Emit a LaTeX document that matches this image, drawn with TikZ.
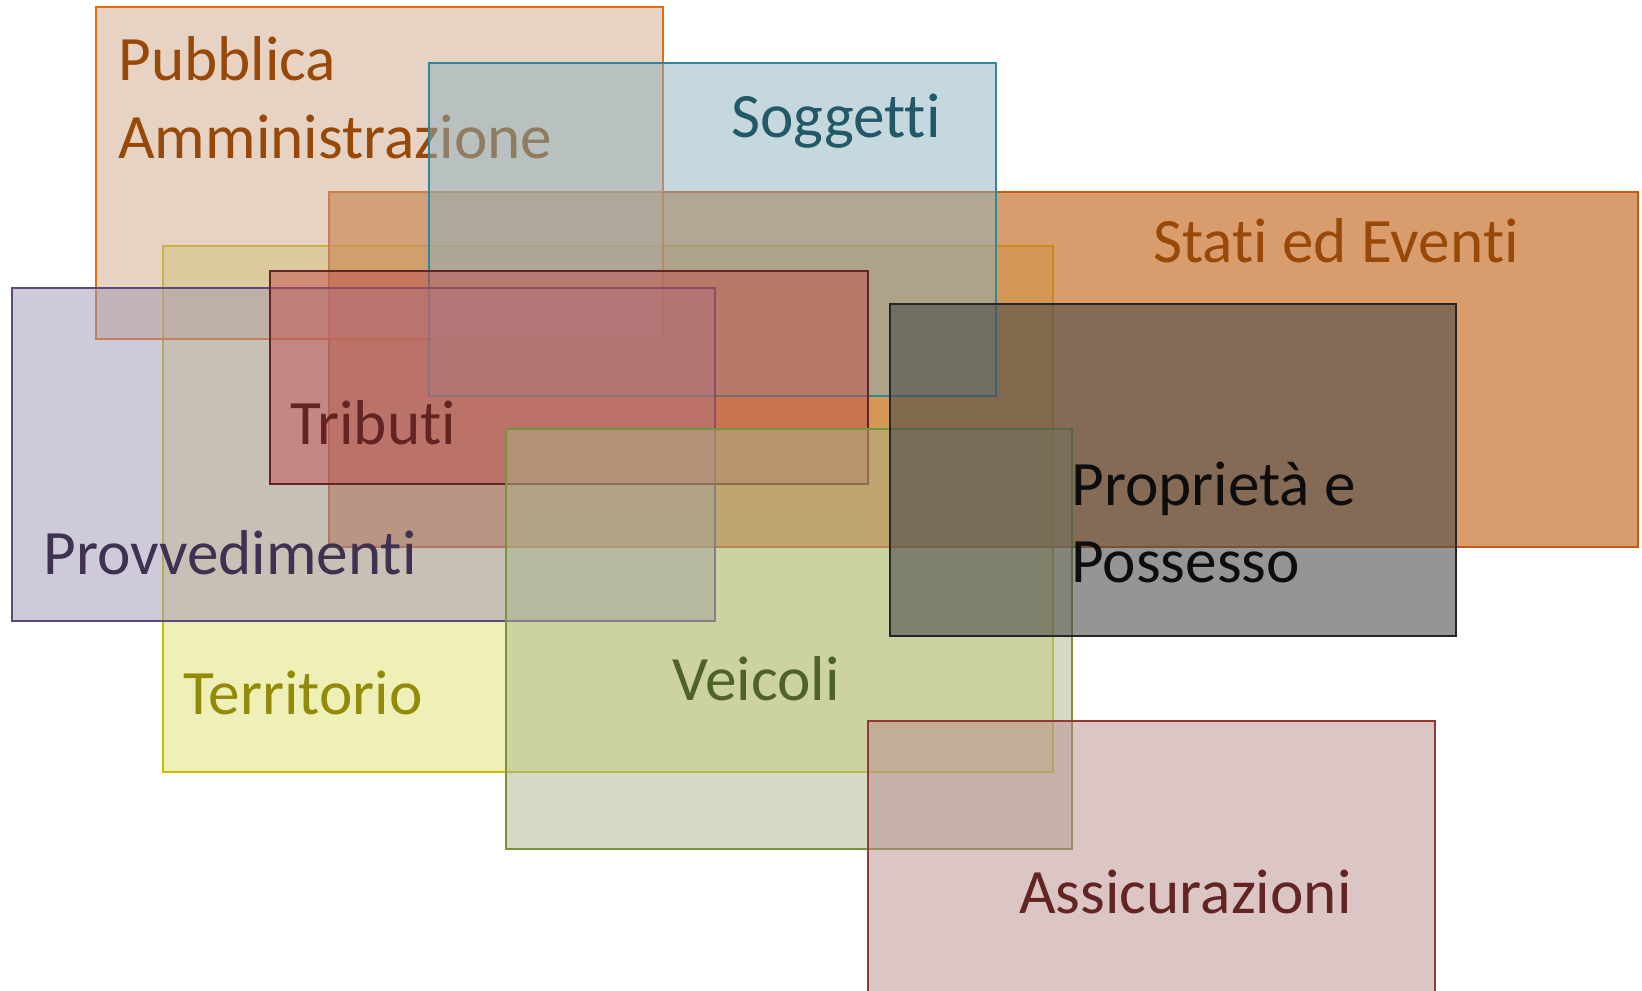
\documentclass[tikz,border=0pt]{standalone}
\usepackage{fontspec}
\setmainfont[Ligatures=NoCommon]{Carlito}

% fills, lines and texts of the boxes
\definecolor{terrFill}{HTML}{DFDF71}
\definecolor{terrLine}{HTML}{C9BC00}
\definecolor{terrText}{HTML}{948A0A}
\definecolor{statFill}{HTML}{C9722D}
\definecolor{statLine}{HTML}{C55A11}
\definecolor{paFill}{HTML}{CDA787}
\definecolor{paLine}{HTML}{E46C0A}
\definecolor{paText}{HTML}{984807}
\definecolor{soggFill}{HTML}{8BB1BD}
\definecolor{soggLine}{HTML}{31859C}
\definecolor{soggText}{HTML}{215968}
\definecolor{provFill}{HTML}{9F95B3}
\definecolor{provLine}{HTML}{5F497A}
\definecolor{provText}{HTML}{3F3151}
\definecolor{tribFill}{HTML}{C0504D}
\definecolor{tribLine}{HTML}{632523}
\definecolor{veicFill}{HTML}{ABB58B}
\definecolor{veicLine}{HTML}{77933C}
\definecolor{veicText}{HTML}{4F6228}
\definecolor{propFill}{HTML}{484848}
\definecolor{propLine}{HTML}{262626}
\definecolor{assiFill}{HTML}{B78B8B}
\definecolor{assiLine}{HTML}{953735}

\tikzset{
  box/.style={line width=1.1pt, fill opacity=#1},
  box/.default=0.5,
  lbl/.style={anchor=base west, inner sep=0pt, font=\fontsize{36}{43}\selectfont},
}

\begin{document}
\begin{tikzpicture}[x=0.02cm,y=-0.02cm]
\useasboundingbox (0,0) rectangle (1642,990);
\clip (0,0) rectangle (1642,990);

% Territorio
\filldraw[box, fill=terrFill, draw=terrLine] (163,246) rectangle (1053,772);
\node[lbl, text=terrText] (terr) at (183,714) {Territorio};

% Stati ed Eventi
\filldraw[box=0.7, fill=statFill, draw=statLine] (329,192) rectangle (1638,547);
\node[lbl, text=paText] (stat) at (1153,262) {Stati ed Eventi};

% Pubblica Amministrazione
\filldraw[box, fill=paFill, draw=paLine] (96,7) rectangle (663,339);
\node[lbl, text=paText] (pa1) at (118,81) {Pubblica};
\node[lbl, text=paText] (pa2) at (118,158) {Amministrazione};

% Soggetti
\filldraw[box, fill=soggFill, draw=soggLine] (429,63) rectangle (996,396);
\node[lbl, text=soggText] (sogg) at (731,137) {Soggetti};

% Provvedimenti
\filldraw[box, fill=provFill, draw=provLine] (12,288) rectangle (715,621);
\node[lbl, text=provText] (prov) at (43,574) {Provvedimenti};

% Tributi
\filldraw[box, fill=tribFill, draw=tribLine] (270,271) rectangle (868,484);
\node[lbl, text=tribLine] (trib) at (290,444) {Tributi};

% Veicoli
\filldraw[box, fill=veicFill, draw=veicLine] (506,429) rectangle (1072,849);
\node[lbl, text=veicText] (veic) at (672,700) {Veicoli};

% Proprieta e Possesso
\filldraw[box=0.58, fill=propFill, draw=propLine] (890,304) rectangle (1456,636);
\node[lbl, text=black!95] (prop1) at (1071,505) {Proprietà e};
\node[lbl, text=black!95] (prop2) at (1071,582) {Possesso};

% Assicurazioni
\filldraw[box, fill=assiFill, draw=assiLine] (868,721) rectangle (1435,1000);
\node[lbl, text=tribLine] (assi) at (1019,913) {Assicurazioni};
\end{tikzpicture}
\end{document}
